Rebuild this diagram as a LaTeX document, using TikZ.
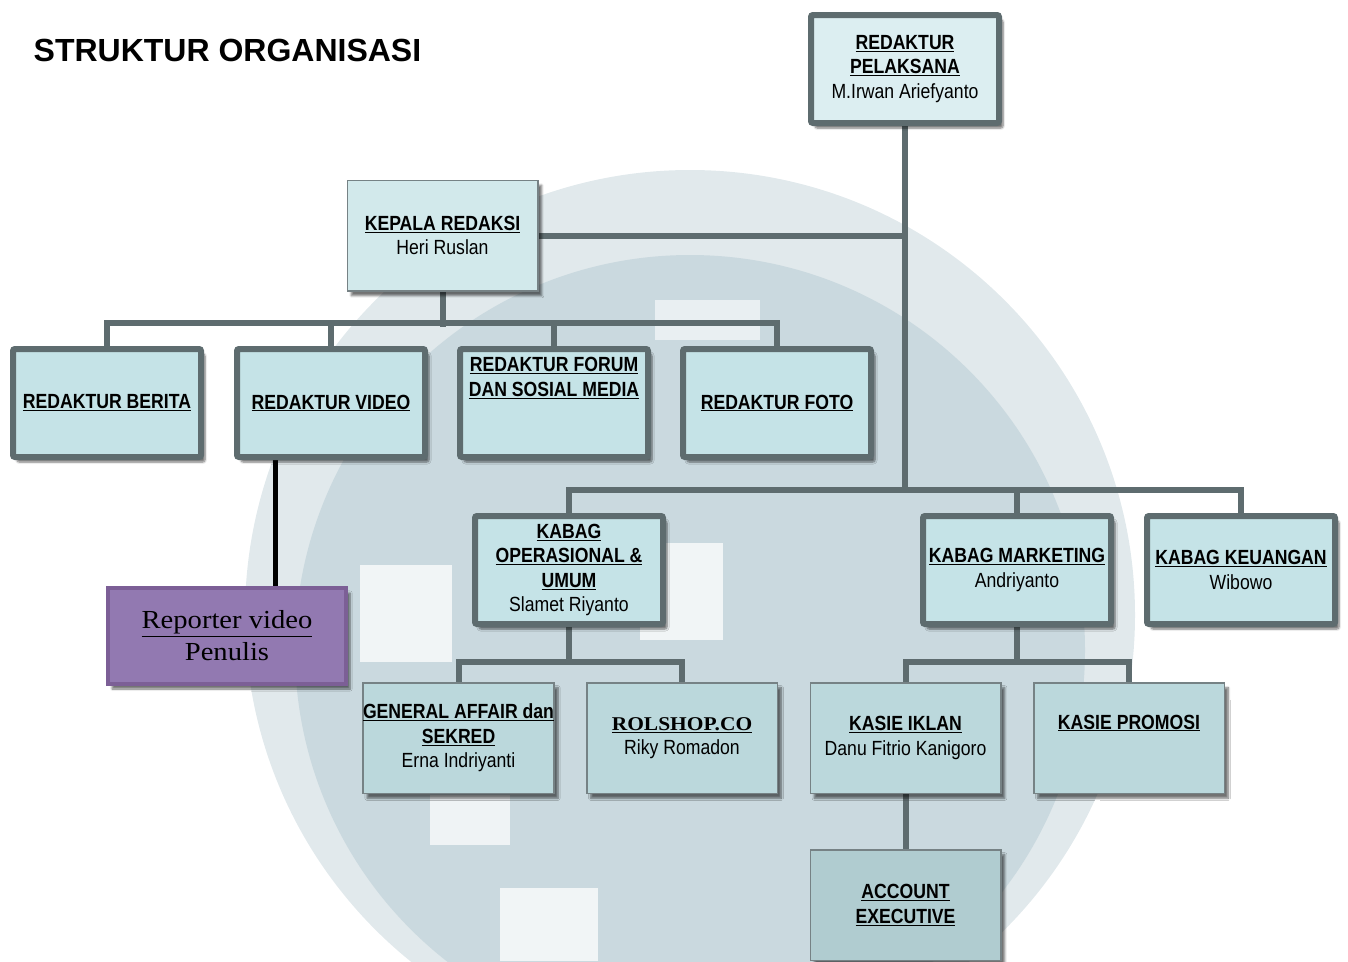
\documentclass[tikz,border=0pt]{standalone}
\usepackage{fontspec}
\setmainfont{Liberation Sans}
\newfontfamily\nar[FakeStretch=0.86]{Liberation Sans}
\newfontfamily\ser[FakeStretch=1.1]{Liberation Serif}
\usetikzlibrary{shadows.blur}
\pgfdeclarelayer{connlayer}
\pgfsetlayers{connlayer,main}
\definecolor{lineC}{HTML}{5E6C6F}
\definecolor{boxA}{HTML}{C5E3E7}
\definecolor{boxTop}{HTML}{DCEEF1}
\definecolor{boxKep}{HTML}{D2E9EB}
\definecolor{boxLow}{HTML}{BBD8DC}
\definecolor{boxAcc}{HTML}{B0CCD0}
\definecolor{purpF}{HTML}{9279B1}
\definecolor{purpD}{HTML}{7C5F96}
\definecolor{wmA}{HTML}{CAD9DF}
\definecolor{wmB}{HTML}{E1E9EC}
\tikzset{
  shd/.style={blur shadow={shadow xshift=4pt, shadow yshift=-5pt, shadow blur steps=6, shadow opacity=55}},
  thickbox/.style={shd, draw=lineC, line width=6pt, fill=boxA, rounded corners=2pt,
     minimum width=188pt, minimum height=108pt, inner sep=0pt, align=center,
     font=\nar\fontsize{20.5}{24.5}\selectfont},
  thinbox/.style={shd, draw=lineC!85, line width=1.5pt, fill=boxLow,
     minimum width=190.5pt, minimum height=110.5pt, inner sep=0pt, align=center,
     font=\nar\fontsize{20.5}{24.5}\selectfont},
  txt/.style={align=center, inner sep=0pt, font=\nar\fontsize{20.5}{24.5}\selectfont},
  conn/.style={draw=lineC, line width=6pt, line join=miter},
  wm/.style={overlay},
}
\begin{document}
\begin{tikzpicture}[x=1pt,y=-1pt]
\useasboundingbox (0,0) rectangle (1348,961);
% title
\node[font=\bfseries\fontsize{32}{36}\selectfont, inner sep=0pt] (title) at (227.5,50) {STRUKTUR ORGANISASI};
% boxes
\node[thickbox, fill=boxTop] (pel) at (905,69) {\textbf{\underline{REDAKTUR}}\\\textbf{\underline{PELAKSANA}}\\M.Irwan Ariefyanto};
\node[thinbox, fill=boxKep] (kep) at (442.5,235.5) {\textbf{\underline{KEPALA REDAKSI}}\\Heri Ruslan};
\node[thickbox] (ber) at (107,403) {\textbf{\underline{REDAKTUR BERITA}}};
\node[thickbox] (vid) at (331,403) {\textbf{\underline{REDAKTUR VIDEO}}};
\node[thickbox] (for) at (554,403) {};
\node[txt] (fort) at (554,378) {\textbf{\underline{REDAKTUR FORUM}}\\\textbf{\underline{DAN SOSIAL MEDIA}}};
\node[thickbox] (fot) at (777,403) {\textbf{\underline{REDAKTUR FOTO}}};
\node[thickbox] (ops) at (569,570) {\textbf{\underline{KABAG}}\\\textbf{\underline{OPERASIONAL \&}}\\\textbf{\underline{UMUM}}\\Slamet Riyanto};
\node[thickbox] (mkt) at (1017,570) {\textbf{\underline{KABAG MARKETING}}\\Andriyanto};
\node[thickbox] (keu) at (1241,570) {\textbf{\underline{KABAG KEUANGAN}}\\Wibowo};
\node[shd, draw=purpD, line width=4pt, fill=purpF, minimum width=238pt, minimum height=96pt, inner sep=0pt,
      align=center, font=\ser\fontsize{26}{32}\selectfont] (rep) at (227,636) {\underline{Reporter video}\\Penulis};
\node[thinbox] (gen) at (458.5,738) {\textbf{\underline{GENERAL AFFAIR dan}}\\\textbf{\underline{SEKRED}}\\Erna Indriyanti};
\node[thinbox] (rol) at (682,738) {{\ser\fontsize{19.5}{24}\selectfont\textbf{\underline{ROLSHOP.CO}}}\\Riky Romadon};
\node[thinbox] (ikl) at (905.5,738) {\textbf{\underline{KASIE IKLAN}}\\Danu Fitrio Kanigoro};
\node[thinbox] (pro) at (1129,738) {};
\node[txt] (prot) at (1129,723) {\textbf{\underline{KASIE PROMOSI}}};
\node[thinbox, fill=boxAcc] (acc) at (905.5,905) {\textbf{\underline{ACCOUNT}}\\\textbf{\underline{EXECUTIVE}}};
% watermark + connectors, behind the boxes
\begin{pgfonlayer}{connlayer}
\fill[wm, wmB] (690,615) circle[radius=445];
\fill[wm, wmA] (690,650) circle[radius=395];
\fill[wm, white,opacity=0.75] (360,565) rectangle (452,662);
\fill[wm, white,opacity=0.75] (640,543) rectangle (723,640);
\fill[wm, white,opacity=0.7] (430,795) rectangle (510,845);
\fill[wm, white,opacity=0.75] (500,888) rectangle (598,961);
\fill[wm, white,opacity=0.6] (655,300) rectangle (760,340);
\fill[wm, white,opacity=0.5] (1100,700) rectangle (1348,961);
\draw[conn] (pel.south) -- ([yshift=23pt]ops.north -| pel.south);
\draw[conn] (kep.east) -- (kep.east -| pel.south);
\draw[conn] (kep.south) -- ++(0,35);
\draw[conn] (ber.north) -- ++(0,-23) -| (fot.north);
\draw[conn] (vid.north) -- ++(0,-23);
\draw[conn] (for.north) -- ++(0,-23);
\draw[conn] (ops.north) -- ++(0,-23) -| (keu.north);
\draw[conn] (mkt.north) -- ++(0,-23);
\draw[conn] (ops.south) -- ++(0,36);
\draw[conn] (gen.north) -- ++(0,-20) -| (rol.north);
\draw[conn] (mkt.south) -- ++(0,36);
\draw[conn] (ikl.north) -- ++(0,-20) -| (pro.north);
\draw[conn] (ikl.south) -- (acc.north);
\draw[black, line width=5pt] ([xshift=-56pt]vid.south) -- ([xshift=-56pt]vid.south |- rep.north);
\end{pgfonlayer}
\end{tikzpicture}
\end{document}
